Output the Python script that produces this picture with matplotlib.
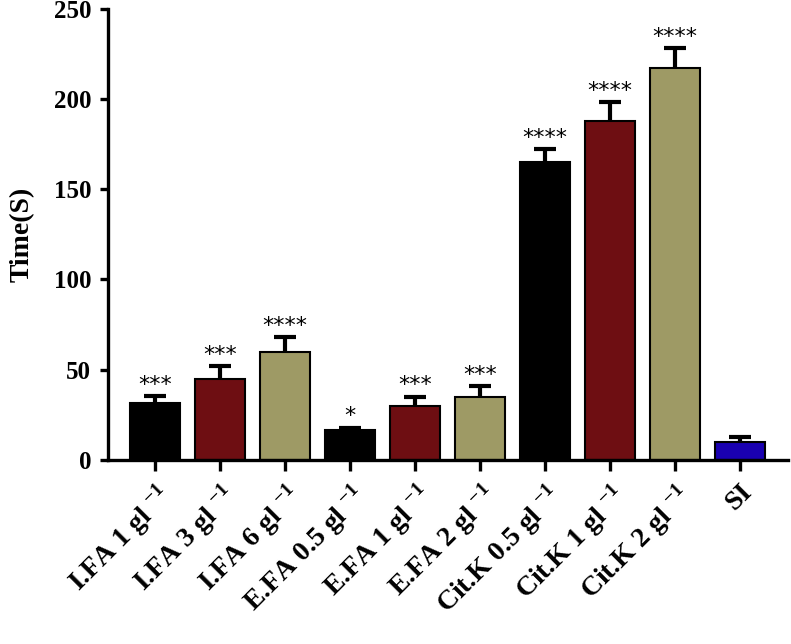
import matplotlib
matplotlib.use('Agg')
import matplotlib.pyplot as plt
import numpy as np

plt.rcParams['font.family'] = ['Liberation Serif', 'DejaVu Serif']
plt.rcParams['font.weight'] = 'bold'
plt.rcParams['mathtext.fontset'] = 'custom'
plt.rcParams['mathtext.rm'] = 'Liberation Serif:bold'
plt.rcParams['mathtext.bf'] = 'Liberation Serif:bold'

# data
labels = [r'I.FA 1 gl $^{-1}$', r'I.FA 3 gl $^{-1}$', r'I.FA 6 gl $^{-1}$',
          r'E.FA 0.5 gl $^{-1}$', r'E.FA 1 gl $^{-1}$', r'E.FA 2 gl $^{-1}$',
          r'Cit.K 0.5 gl $^{-1}$', r'Cit.K 1 gl $^{-1}$', r'Cit.K 2 gl $^{-1}$', 'SI']
means = [31.5, 44.7, 59.6, 16.6, 29.9, 35.0, 165.0, 187.6, 217.0, 10.1]
errs = [3.8, 7.2, 8.3, 1.3, 5.1, 6.0, 7.2, 10.5, 11.0, 2.5]
stars = ['***', '***', '****', '*', '***', '***', '****', '****', '****', '']
colors = ['#000000', '#6e0e12', '#9e9a65', '#000000', '#6e0e12', '#9e9a65',
          '#000000', '#6e0e12', '#9e9a65', '#1a00b0']

fig = plt.figure(figsize=(7.91, 6.44), dpi=100)
ax = fig.add_axes([0.1365, 0.2857, 0.996 - 0.1365, 0.9868 - 0.2857])

x = np.arange(len(means))
ax.bar(x, means, width=0.77, color=colors, edgecolor='black', linewidth=1.5, zorder=2)
eb = ax.errorbar(x, means, yerr=[np.zeros(len(errs)), errs], fmt='none', ecolor='black',
                 elinewidth=3, capsize=8, capthick=3, zorder=1)
# only the upper cap is shown
eb[1][0].set_visible(False)

for xi, m, e, s in zip(x, means, errs, stars):
    if s:
        ax.annotate(s, (xi, m + e), xytext=(0, 1), textcoords='offset points',
                    ha='center', va='bottom', fontsize=16, fontfamily='DejaVu Sans',
                    fontweight='normal')

ax.set_xlim(-0.72, 9.74)
ax.set_ylim(0, 250)
ax.set_yticks([0, 50, 100, 150, 200, 250])
ax.set_xticks(x)
ax.set_xticklabels(labels, rotation=45, ha='right', va='top', rotation_mode='anchor')

for sp in ['top', 'right']:
    ax.spines[sp].set_visible(False)
for sp in ['left', 'bottom']:
    ax.spines[sp].set_linewidth(2.4)

ax.tick_params(axis='y', length=6, width=2.4, labelsize=18, pad=6)
ax.tick_params(axis='x', length=8, width=2.4, labelsize=20, pad=6)
for t in ax.get_yticklabels() + ax.get_xticklabels():
    t.set_fontweight('bold')

ax.set_ylabel('Time(S)', fontsize=20, fontweight='bold', labelpad=14)

fig.savefig('out.png', dpi=100)
